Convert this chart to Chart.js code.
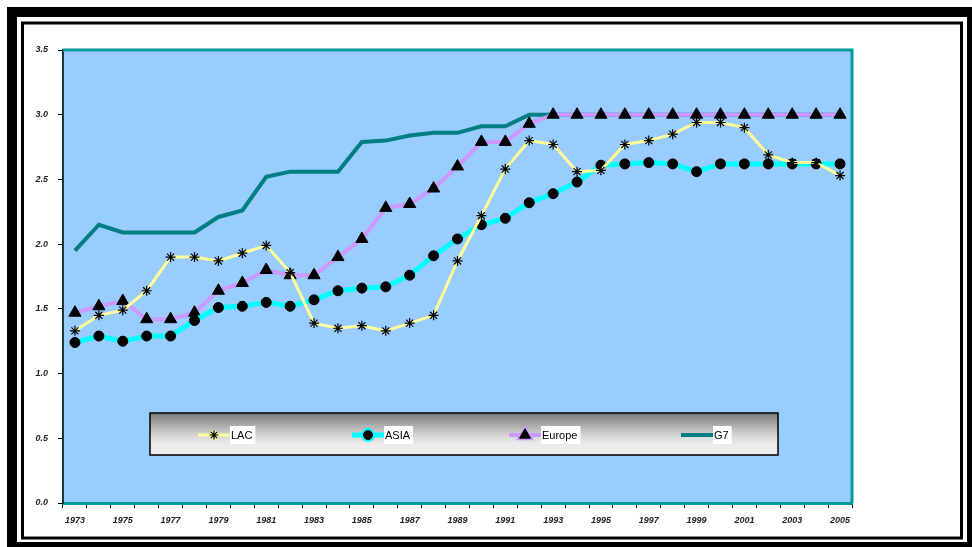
<!DOCTYPE html>
<html>
<head>
<meta charset="utf-8">
<style>
  html, body { margin: 0; padding: 0; background: #ffffff; }
  #wrap { width: 972px; height: 547px; position: relative; }
</style>
<script src="https://cdn.jsdelivr.net/npm/chart.js@4/dist/chart.umd.min.js"></script>
</head>
<body>
<div id="wrap"><canvas id="chart" width="972" height="547"></canvas></div>
<script>
// Years on the category axis
const years = ['1973','1974','1975','1976','1977','1978','1979','1980','1981','1982','1983',
  '1984','1985','1986','1987','1988','1989','1990','1991','1992','1993','1994','1995',
  '1996','1997','1998','1999','2000','2001','2002','2003','2004','2005'];

// Index values per region
const lacValues = [1.33,1.45,1.49,1.64,1.90,1.90,1.87,1.93,1.99,1.78,1.39,1.35,1.37,1.33,1.39,1.45,
  1.87,2.22,2.58,2.80,2.77,2.56,2.57,2.77,2.80,2.85,2.94,2.94,2.90,2.69,2.63,2.63,2.53];
const asiaValues = [1.24,1.29,1.25,1.29,1.29,1.41,1.51,1.52,1.55,1.52,1.57,1.64,1.66,1.67,1.76,1.91,
  2.04,2.15,2.20,2.32,2.39,2.48,2.61,2.62,2.63,2.62,2.56,2.62,2.62,2.62,2.62,2.62,2.62];
const europeValues = [1.47,1.52,1.56,1.42,1.42,1.47,1.64,1.70,1.80,1.76,1.76,1.90,2.04,2.28,2.31,2.43,
  2.60,2.79,2.79,2.93,3.0,3.0,3.0,3.0,3.0,3.0,3.0,3.0,3.0,3.0,3.0,3.0,3.0];
const g7Values = [1.95,2.15,2.09,2.09,2.09,2.09,2.21,2.26,2.52,2.56,2.56,2.56,2.79,2.80,2.84,2.86,
  2.86,2.91,2.91,3.0,3.0,3.0,3.0,3.0,3.0,3.0,3.0,3.0,3.0,3.0,3.0,3.0,3.0];

// Y axis ticks
const yTicks = [0.0, 0.5, 1.0, 1.5, 2.0, 2.5, 3.0, 3.5];

const tickFont = { family: 'Liberation Sans', size: 9, weight: 'bold', style: 'italic' };

// Page frame, plot background and plot border
const framePlugin = {
  id: 'frame',
  beforeDraw(chart) {
    const ctx = chart.ctx;
    ctx.save();
    ctx.fillStyle = '#ffffff';
    ctx.fillRect(0, 0, chart.width, chart.height);
    ctx.fillStyle = '#000000';
    ctx.fillRect(7, 7, 965, 540);
    ctx.fillStyle = '#ffffff';
    ctx.fillRect(17, 17, 950, 525);
    ctx.strokeStyle = '#000000';
    ctx.lineWidth = 3;
    ctx.strokeRect(22.5, 23, 939, 515);
    const a = chart.chartArea;
    ctx.fillStyle = '#99CCFF';
    ctx.fillRect(a.left, a.top, a.right - a.left, a.bottom - a.top);
    ctx.restore();
  },
  afterDatasetsDraw(chart) {
    const ctx = chart.ctx;
    const a = chart.chartArea;
    ctx.save();
    ctx.strokeStyle = '#009a9a';
    ctx.lineWidth = 3;
    ctx.beginPath();
    ctx.moveTo(a.left, a.top);
    ctx.lineTo(a.right, a.top);
    ctx.lineTo(a.right, a.bottom);
    ctx.stroke();
    ctx.restore();
  }
};

// Boxed legend with a grey gradient, drawn inside the plot
const boxLegendPlugin = {
  id: 'boxLegend',
  afterDraw(chart) {
    const ctx = chart.ctx;
    const x0 = 150, y0 = 413, w = 628, h = 42;
    ctx.save();
    const g = ctx.createLinearGradient(0, y0, 0, y0 + h);
    g.addColorStop(0, '#7a7a7a');
    g.addColorStop(0.55, '#d8d8d8');
    g.addColorStop(0.75, '#ececec');
    g.addColorStop(1, '#eeeeee');
    ctx.fillStyle = g;
    ctx.fillRect(x0, y0, w, h);
    ctx.strokeStyle = '#000000';
    ctx.lineWidth = 1.5;
    ctx.strokeRect(x0, y0, w, h);

    const lineStarts = [198, 352, 509, 681];
    const cy = 435;
    ctx.font = '11px "Liberation Sans Narrow", "Liberation Sans", sans-serif';
    ctx.textBaseline = 'middle';
    chart.data.datasets.forEach((ds, i) => {
      const lx = lineStarts[i];
      ctx.strokeStyle = ds.borderColor;
      ctx.lineWidth = Math.min(ds.borderWidth, 5);
      ctx.beginPath();
      ctx.moveTo(lx, cy);
      ctx.lineTo(lx + 32, cy);
      ctx.stroke();
      if (ds.pointStyle && ds.pointRadius > 0) {
        Chart.helpers.drawPoint(ctx, {
          pointStyle: ds.pointStyle,
          radius: ds.pointRadius * 0.9,
          borderWidth: ds.pointBorderWidth,
          rotation: 0
        }, lx + 16, cy);
        ctx.fillStyle = ds.pointBackgroundColor;
        ctx.strokeStyle = ds.pointBorderColor;
        ctx.lineWidth = ds.pointBorderWidth;
        ctx.beginPath();
        Chart.helpers.drawPoint(ctx, {
          pointStyle: ds.pointStyle,
          radius: ds.pointRadius * 0.9,
          borderWidth: ds.pointBorderWidth,
          rotation: 0
        }, lx + 16, cy);
      }
      const tw = ctx.measureText(ds.label).width;
      ctx.fillStyle = '#ffffff';
      ctx.fillRect(lx + 32, cy - 9, tw + 4, 18);
      ctx.fillStyle = '#000000';
      ctx.fillText(ds.label, lx + 33, cy + 1);
    });
    ctx.restore();
  }
};

new Chart(document.getElementById('chart'), {
  type: 'line',
  data: {
    labels: years,
    datasets: [
      {
        label: 'LAC', data: lacValues,
        borderColor: '#FFFF99', borderWidth: 3,
        pointStyle: 'star', pointRadius: 5,
        pointBackgroundColor: '#000000', pointBorderColor: '#000000', pointBorderWidth: 1.2,
        tension: 0
      },
      {
        label: 'ASIA', data: asiaValues,
        borderColor: '#00FFFF', borderWidth: 5,
        pointStyle: 'circle', pointRadius: 5,
        pointBackgroundColor: '#000000', pointBorderColor: '#000000', pointBorderWidth: 1,
        tension: 0
      },
      {
        label: 'Europe', data: europeValues,
        borderColor: '#CC99FF', borderWidth: 4,
        pointStyle: 'triangle', pointRadius: 7,
        pointBackgroundColor: '#000000', pointBorderColor: '#000000', pointBorderWidth: 1,
        tension: 0
      },
      {
        label: 'G7', data: g7Values,
        borderColor: '#008080', borderWidth: 4,
        pointStyle: false, pointRadius: 0,
        pointBackgroundColor: '#008080', pointBorderColor: '#008080', pointBorderWidth: 0,
        tension: 0
      }
    ]
  },
  options: {
    responsive: false,
    animation: false,
    devicePixelRatio: 1,
    layout: { padding: { left: 0, top: 50, right: 120, bottom: 0 } },
    plugins: {
      legend: { display: false },
      tooltip: { enabled: false }
    },
    scales: {
      x: {
        type: 'category',
        offset: true,
        grid: {
          offset: true,
          drawOnChartArea: false,
          drawTicks: true,
          tickLength: 5,
          tickColor: '#000000'
        },
        border: { display: true, color: '#009a9a', width: 3 },
        ticks: {
          autoSkip: false,
          maxRotation: 0,
          minRotation: 0,
          padding: 7,
          color: '#222222',
          font: tickFont,
          callback: (v, i) => (i % 2 === 0 ? years[i] : '')
        },
        afterFit: (s) => { s.height = 44; }
      },
      y: {
        min: 0,
        max: 3.5,
        afterBuildTicks: (s) => { s.ticks = yTicks.map(v => ({ value: v })); },
        grid: {
          drawOnChartArea: false,
          drawTicks: true,
          tickLength: 5,
          tickColor: '#000000'
        },
        border: { display: true, color: '#1a3a3a', width: 2 },
        ticks: {
          padding: 10,
          color: '#222222',
          font: tickFont,
          callback: (v) => Number(v).toFixed(1)
        },
        afterFit: (s) => { s.width = 63; }
      }
    }
  },
  plugins: [framePlugin, boxLegendPlugin]
});
</script>
</body>
</html>
